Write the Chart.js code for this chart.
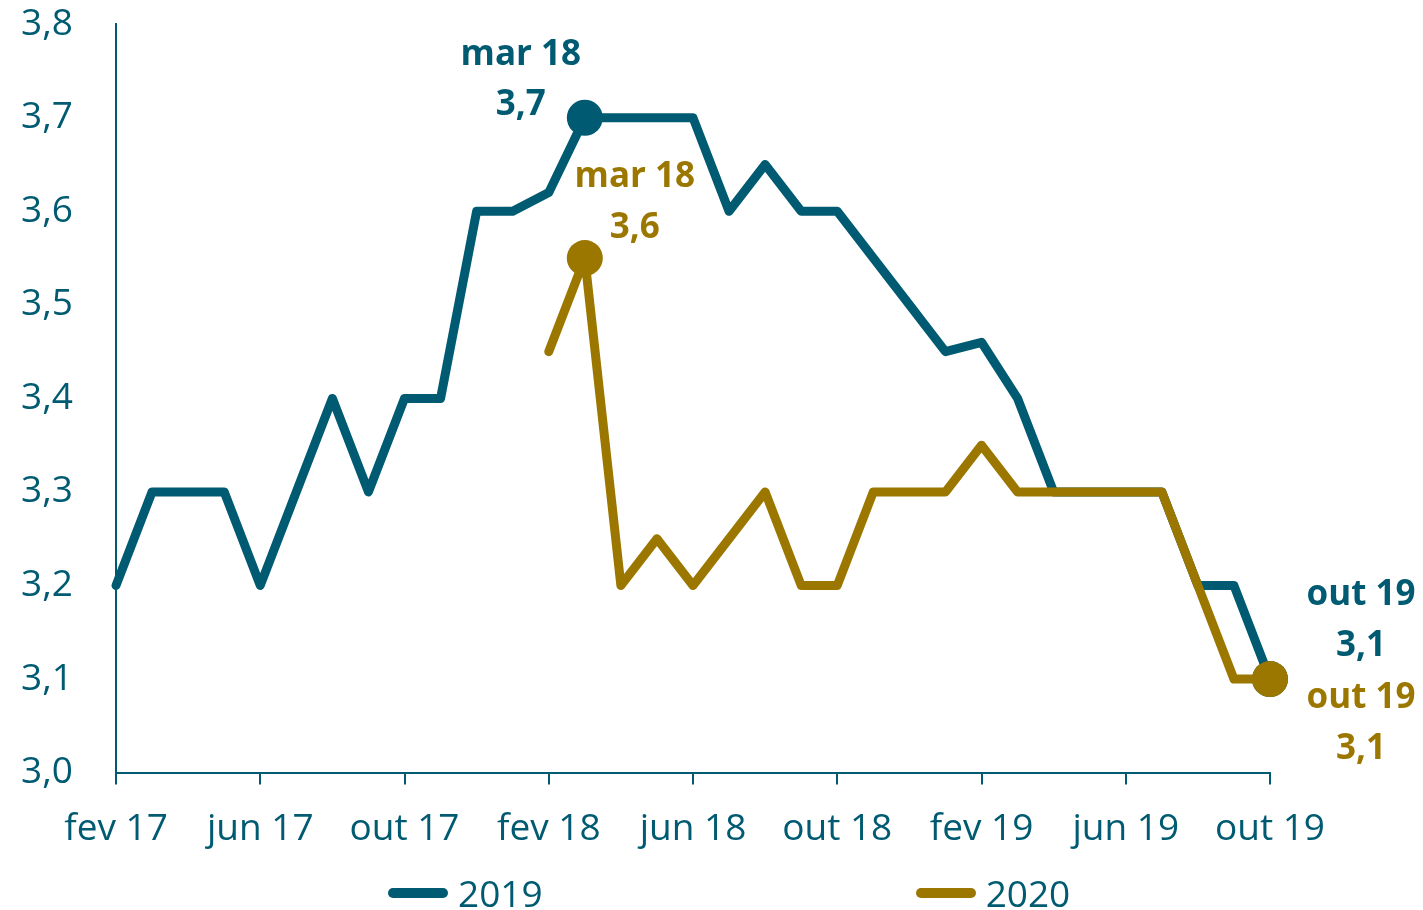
<!DOCTYPE html>
<html>
<head>
<meta charset="utf-8">
<script src="https://cdn.jsdelivr.net/npm/chart.js@4/dist/chart.umd.min.js"></script>
<style>
  body { margin: 0; background: #fff; font-family: 'Open Sans', sans-serif; }
  #wrap { position: relative; width: 1423px; height: 910px; }
  #legend { position: absolute; left: 388px; top: 870px; display: flex; gap: 373px; }
  .item { display: flex; align-items: center; gap: 10px; font-size: 37px; color: #005b72; line-height: 46px; }
  .swatch { width: 60px; height: 10px; border-radius: 5px; }
</style>
</head>
<body>
<div id="wrap">
  <canvas id="chart"></canvas>
  <div id="legend"></div>
</div>
<script>
const months = ['fev 17','mar 17','abr 17','mai 17','jun 17','jul 17','ago 17','set 17','out 17','nov 17','dez 17','jan 18',
                'fev 18','mar 18','abr 18','mai 18','jun 18','jul 18','ago 18','set 18','out 18','nov 18','dez 18','jan 19',
                'fev 19','mar 19','abr 19','mai 19','jun 19','jul 19','ago 19','set 19','out 19'];
const values2019 = [3.2,3.3,3.3,3.3,3.2,3.3,3.4,3.3,3.4,3.4,3.6,3.6,
                    3.62,3.7,3.7,3.7,3.7,3.6,3.65,3.6,3.6,3.55,3.5,3.45,
                    3.46,3.4,3.3,3.3,3.3,3.3,3.2,3.2,3.1];
const values2020 = [null,null,null,null,null,null,null,null,null,null,null,null,
                    3.45,3.55,3.2,3.25,3.2,3.25,3.3,3.2,3.2,3.3,3.3,3.3,
                    3.35,3.3,3.3,3.3,3.3,3.3,3.2,3.1,3.1];
const seriesNames = ['2019', '2020'];
const highlighted = ['mar 18', 'out 19'];
const yTicks = [3.0, 3.1, 3.2, 3.3, 3.4, 3.5, 3.6, 3.7, 3.8];

const BLUE = '#005b72';
const GOLD = '#9c7700';
const colors = [BLUE, GOLD];

const fmt = v => (Math.round(v * 10) / 10).toFixed(1).replace('.', ',');

// where each highlighted label sits relative to its point
const labelOffsets = [
    { 'mar 18': { dx: -64, dy: [-63, -13] }, 'out 19': { dx: 91, dy: [-84, -33] } },
    { 'mar 18': { dx: 50, dy: [-81, -30] },  'out 19': { dx: 91, dy: [19, 70] } }
];

const pointLabels = {
    id: 'pointLabels',
    afterDatasetsDraw(chart) {
        const ctx = chart.ctx;
        ctx.save();
        ctx.font = 'bold 35px "Open Sans"';
        ctx.textAlign = 'center';
        ctx.textBaseline = 'middle';
        chart.data.datasets.forEach((ds, di) => {
            const meta = chart.getDatasetMeta(di);
            highlighted.forEach(m => {
                const i = months.indexOf(m);
                const v = ds.data[i];
                if (v == null) return;
                const pt = meta.data[i];
                const off = labelOffsets[di][m];
                ctx.fillStyle = colors[di];
                ctx.fillText(m, pt.x + off.dx, pt.y + off.dy[0]);
                ctx.fillText(fmt(v), pt.x + off.dx, pt.y + off.dy[1]);
            });
        });
        ctx.restore();
    }
};

const radius = c => highlighted.includes(months[c.dataIndex]) ? 18 : 0;

new Chart(document.getElementById('chart'), {
    type: 'line',
    data: {
        labels: months,
        datasets: [
            { label: seriesNames[0], data: values2019, borderColor: BLUE, backgroundColor: BLUE, order: 2 },
            { label: seriesNames[1], data: values2020, borderColor: GOLD, backgroundColor: GOLD, order: 1 }
        ].map(d => Object.assign(d, {
            borderWidth: 9, tension: 0, clip: false, spanGaps: false,
            borderJoinStyle: 'round', borderCapStyle: 'round',
            pointRadius: radius, pointHoverRadius: radius, pointBorderWidth: 0
        }))
    },
    options: {
        responsive: true,
        maintainAspectRatio: false,
        animation: false,
        layout: { padding: { top: 3, right: 153, bottom: 35, left: 0 } },
        plugins: { legend: { display: false }, tooltip: { enabled: false } },
        scales: {
            x: {
                offset: false,
                grid: { display: true, drawOnChartArea: false, drawTicks: true, tickLength: 12, color: BLUE, lineWidth: 2 },
                border: { display: true, color: BLUE, width: 2 },
                ticks: {
                    autoSkip: false, maxRotation: 0, padding: 23, color: BLUE,
                    font: { family: 'Open Sans', size: 37 },
                    callback: (v, i) => i % 4 === 0 ? months[i] : null
                }
            },
            y: {
                min: 3.0, max: 3.8,
                afterBuildTicks: axis => { axis.ticks = yTicks.map(v => ({ value: v })); },
                afterFit: axis => { axis.width = 116; },
                grid: { display: true, drawOnChartArea: false, drawTicks: true, tickLength: 41, tickColor: 'rgba(0,0,0,0)' },
                border: { display: true, color: BLUE, width: 2 },
                ticks: {
                    padding: 2, color: BLUE,
                    font: { family: 'Open Sans', size: 37 },
                    callback: v => fmt(v)
                }
            }
        }
    },
    plugins: [pointLabels]
});

const legend = document.getElementById('legend');
seriesNames.forEach((name, i) => {
    const item = document.createElement('div');
    item.className = 'item';
    item.innerHTML = `<span class="swatch" style="background:${colors[i]}"></span><span>${name}</span>`;
    legend.appendChild(item);
});
</script>
</body>
</html>
